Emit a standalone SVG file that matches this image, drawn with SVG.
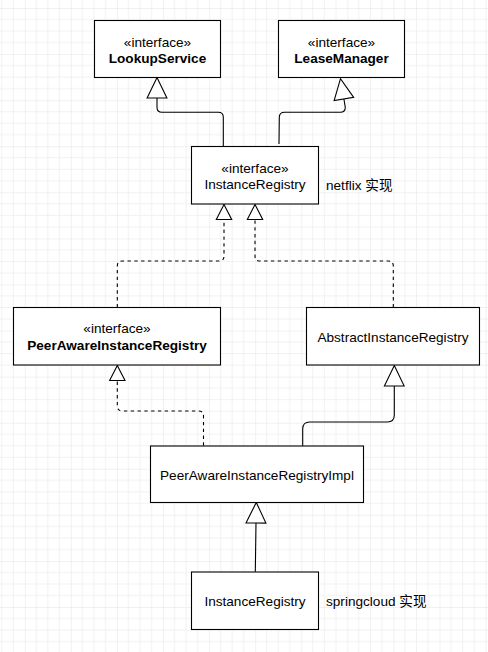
<svg xmlns="http://www.w3.org/2000/svg" width="488" height="652" viewBox="0 0 488 652">
  <style>
    .box { fill: #ffffff; stroke: #000000; stroke-width: 1.1; }
    .t { font-family: "Liberation Sans", Arial, Helvetica, sans-serif; font-size: 13.6px; fill: #000000; }
    .c { text-anchor: middle; }
    .b { font-weight: bold; }
    .note { font-family: "Liberation Sans", "Noto Sans CJK SC", Arial, sans-serif; font-size: 13.6px; fill: #000000; }
    .edge { fill: none; stroke: #000000; stroke-width: 1.1; }
    .dash { stroke-dasharray: 3.4 3.4; }
  </style>
  <defs>
    <pattern id="grid" patternUnits="userSpaceOnUse" x="24.8" y="8" width="46.08" height="46.08">
      <path d="M11.52,0 V46.08 M23.04,0 V46.08 M34.56,0 V46.08 M0,11.52 H46.08 M0,23.04 H46.08 M0,34.56 H46.08" stroke="#f1f1f1" stroke-width="1" fill="none"/>
      <path d="M0,0 V46.08 M0,0 H46.08" stroke="#e3e3e3" stroke-width="1" fill="none"/>
    </pattern>
    <marker id="big" viewBox="-1 -11 23 22" refX="0" refY="0" markerWidth="23" markerHeight="22" markerUnits="userSpaceOnUse" orient="auto">
      <path d="M0,-9.9 L20.6,0 L0,9.9 Z" fill="#ffffff" stroke="#000000" stroke-width="1.1" stroke-dasharray="none"/>
    </marker>
    <marker id="small" viewBox="-1 -9 17 18" refX="0" refY="0" markerWidth="17" markerHeight="18" markerUnits="userSpaceOnUse" orient="auto">
      <path d="M0,-7.7 L15,0 L0,7.7 Z" fill="#ffffff" stroke="#000000" stroke-width="1.1" stroke-dasharray="none"/>
    </marker>
  </defs>
  <rect x="0" y="0" width="488" height="652" fill="#ffffff"/>
  <rect x="0" y="0" width="488" height="652" fill="url(#grid)"/>

  <g id="connectors">
    <path class="edge" d="M223.3,146 V117.3 Q223.3,112.3 218.3,112.3 H162 Q157,112.3 157,107.3 V98" marker-end="url(#big)"/>
    <path class="edge" d="M279,144 L279.3,117.3 Q279.5,112.3 284.5,112.3 H340.3 Q345.3,112.3 345.3,107.3 L343.9,99" marker-end="url(#big)"/>
    <path class="edge dash" d="M117.3,307.3 V266 Q117.3,261 122.3,261 H219 Q224,261 224,256 V219.5" marker-end="url(#small)"/>
    <path class="edge dash" d="M393.3,307.3 V266 Q393.3,261 388.3,261 H260 Q255,261 255,256 V219.5" marker-end="url(#small)"/>
    <path class="edge dash" d="M203.5,445.7 V416 Q203.5,411 198.5,411 H122.3 Q117.3,411 117.3,406 V380.5" marker-end="url(#small)"/>
    <path class="edge" d="M302.7,445.7 V429 Q302.7,422 309.7,422 H387.3 Q394.3,422 394.3,415 V386" marker-end="url(#big)"/>
    <path class="edge" d="M255.3,571.7 L256,523" marker-end="url(#big)"/>
  </g>

  <g id="lookupService">
    <rect class="box" x="94.5" y="20.5" width="126" height="57"/>
    <text class="t c" x="157.5" y="46.5">«interface»</text>
    <text class="t c b" x="157.5" y="62.5">LookupService</text>
  </g>
  <g id="leaseManager">
    <rect class="box" x="278.5" y="20.5" width="126" height="57"/>
    <text class="t c" x="341.5" y="46.5">«interface»</text>
    <text class="t c b" x="341.5" y="62.5">LeaseManager</text>
  </g>
  <g id="instanceRegistryInterface">
    <rect class="box" x="191.5" y="146.5" width="127" height="57.5"/>
    <text class="t c" x="255" y="172.5">«interface»</text>
    <text class="t c" x="255" y="188.5">InstanceRegistry</text>
  </g>
  <g id="netflixNote">
    <text class="note" x="326" y="190">netflix 实现</text>
  </g>
  <g id="peerAwareInstanceRegistry">
    <rect class="box" x="13.5" y="307.5" width="207" height="57.5"/>
    <text class="t c" x="117" y="333">«interface»</text>
    <text class="t c b" x="117" y="349.5">PeerAwareInstanceRegistry</text>
  </g>
  <g id="abstractInstanceRegistry">
    <rect class="box" x="306.5" y="307.5" width="173" height="57.5"/>
    <text class="t c" x="393" y="341.5">AbstractInstanceRegistry</text>
  </g>
  <g id="peerAwareInstanceRegistryImpl">
    <rect class="box" x="150.5" y="446" width="213" height="56.5"/>
    <text class="t c" x="257" y="479.5">PeerAwareInstanceRegistryImpl</text>
  </g>
  <g id="instanceRegistry">
    <rect class="box" x="191.5" y="572" width="127" height="57.5"/>
    <text class="t c" x="255" y="606">InstanceRegistry</text>
  </g>
  <g id="springcloudNote">
    <text class="note" x="326" y="606">springcloud 实现</text>
  </g>
</svg>
